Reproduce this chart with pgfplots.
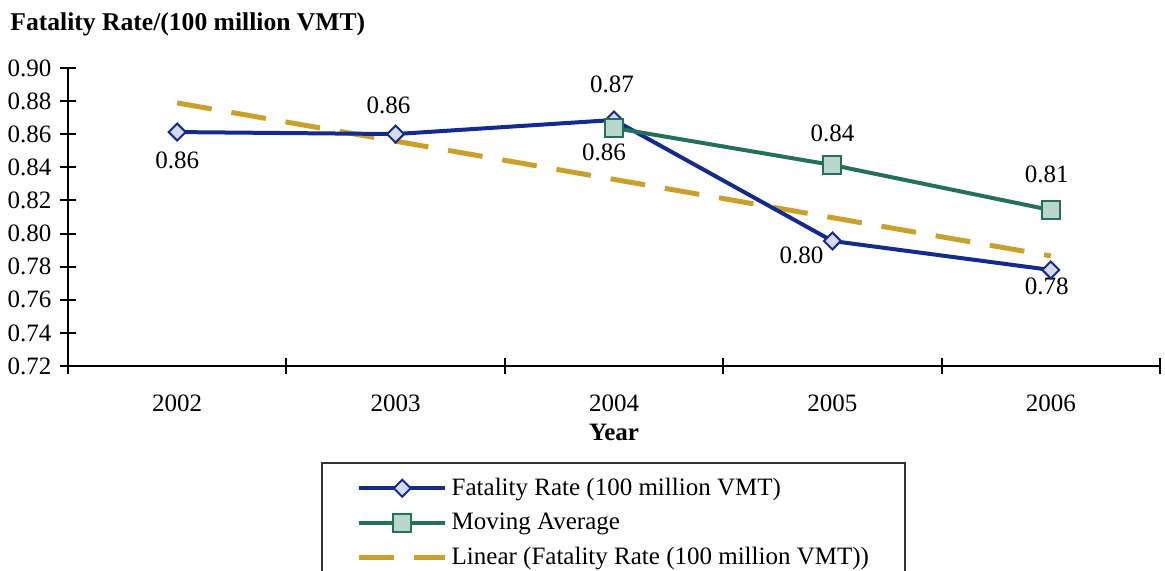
\documentclass[border=0pt]{standalone}
\usepackage{fontspec}
\setmainfont{Liberation Serif}
\usepackage{pgfplots}
\pgfplotsset{compat=1.18}

\definecolor{fatblue}{HTML}{142A8F}
\definecolor{fatfill}{HTML}{D5DBEB}
\definecolor{magreen}{HTML}{23705C}
\definecolor{mafill}{HTML}{BAD7CB}
\definecolor{trendgold}{HTML}{C9A12A}

\begin{document}
\fontsize{12.5}{15}\selectfont
\begin{tikzpicture}
\path[use as bounding box] (-34pt,-102.5pt) rectangle (548.5pt,183pt);
\begin{axis}[
  at={(0,0)}, anchor=south west,
  scale only axis, width=546pt, height=149pt,
  xmin=-0.5, xmax=4.5, ymin=0.72, ymax=0.90,
  axis x line=bottom, axis y line=left,
  axis line style={line width=1pt, -},
  every tick/.style={black, line width=1pt},
  tick align=center, major tick length=8pt,
  xtick={-0.5,0.5,1.5,2.5,3.5,4.5},
  x tick label as interval,
  xticklabels={2002,2003,2004,2005,2006},
  ytick={0.72,0.74,0.76,0.78,0.80,0.82,0.84,0.86,0.88,0.90},
  tick label style={font=\fontsize{12.5}{15}\selectfont},
  xticklabel style={yshift=-6pt},
  yticklabel style={/pgf/number format/.cd, fixed, fixed zerofill, precision=2, assume math mode=true},
  xlabel={\textbf{Year}},
  xlabel style={at={(axis description cs:0.5,0)}, anchor=center, yshift=-33pt},
  label style={font=\fontsize{12.5}{15}\selectfont},
  legend style={draw=none, fill=none, at={(0.2640,-0.36)}, anchor=north west,
    font=\fontsize{12.5}{15}\selectfont, inner sep=0pt, row sep=3pt,
    nodes={inner sep=2pt}},
  legend cell align=left,
  legend image code/.code={\draw[mark repeat=2, mark phase=2] plot coordinates {(0pt,0pt) (21.5pt,0pt) (43pt,0pt)};},
]
% linear trend of the fatality rate
\addplot[forget plot, trendgold, line width=2.5pt, dash pattern=on 17.5pt off 10pt]
  coordinates {(0,0.8789) (4,0.7865)};
% fatality rate
\addplot[fatblue, line width=2pt, mark=square*, mark size=3pt,
  mark options={rotate=45, fill=fatfill, draw=fatblue, line width=1pt, solid}]
  coordinates {(0,0.8613) (1,0.8601) (2,0.8686) (3,0.7955) (4,0.7780)};
% moving average
\addplot[magreen, line width=2pt, mark=square*, mark size=4.5pt,
  mark options={fill=mafill, draw=magreen, line width=1pt, solid}]
  coordinates {(2,0.8638) (3,0.8414) (4,0.8142)};
\addlegendimage{trendgold, line width=2.5pt, dash pattern=on 17.5pt off 10pt}
\legend{Fatality Rate (100 million VMT), Moving Average, Linear (Fatality Rate (100 million VMT))}

% data labels
\node[yshift=-14pt] at (axis cs:0,0.8613) {0.86};
\node[xshift=-3.5pt, yshift=14.5pt] at (axis cs:1,0.8601) {0.86};
\node[xshift=-1pt, yshift=18pt] at (axis cs:2,0.8686) {0.87};
\node[xshift=-15.5pt, yshift=-7pt] at (axis cs:3,0.7955) {0.80};
\node[xshift=-2pt, yshift=-8pt] at (axis cs:4,0.7780) {0.78};
\node[xshift=-5pt, yshift=-12pt] at (axis cs:2,0.8638) {0.86};
\node[yshift=16pt] at (axis cs:3,0.8414) {0.84};
\node[xshift=-2pt, yshift=18pt] at (axis cs:4,0.8142) {0.81};
\end{axis}
\node[anchor=west, inner sep=0pt, font=\bfseries\fontsize{12.8}{15}\selectfont] at (-29pt,171pt) {Fatality Rate/(100 million VMT)};
\draw[line width=0.75pt, black!80] (127pt,-48.5pt) rectangle (418.5pt,-150pt);
\end{tikzpicture}
\end{document}
